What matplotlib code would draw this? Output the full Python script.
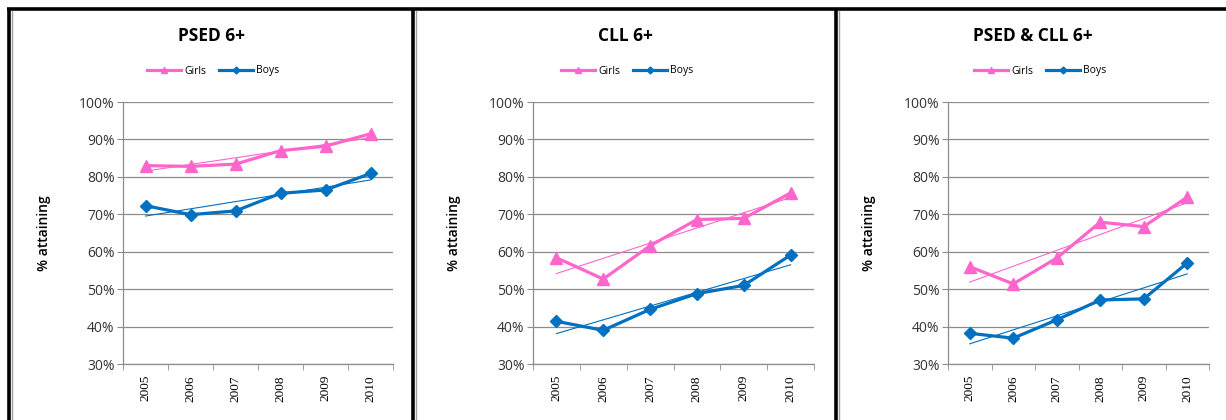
import numpy as np
import matplotlib
matplotlib.use('Agg')
import matplotlib.pyplot as plt
from matplotlib.lines import Line2D

# data (percent attaining)
years = ['2005', '2006', '2007', '2008', '2009', '2010']
titles = ['PSED 6+', 'CLL 6+', 'PSED & CLL 6+']

psed_girls = [83.0, 82.8, 83.4, 87.0, 88.2, 91.5]
psed_boys = [72.3, 69.9, 70.9, 75.6, 76.5, 80.9]
cll_girls = [58.4, 52.7, 61.6, 68.6, 68.9, 75.7]
cll_boys = [41.4, 39.0, 44.6, 48.8, 51.0, 59.1]
both_girls = [56.0, 51.4, 58.3, 67.9, 66.7, 74.6]
both_boys = [38.2, 36.9, 41.8, 47.1, 47.4, 57.0]

girls_series = [psed_girls, cll_girls, both_girls]
boys_series = [psed_boys, cll_boys, both_boys]

pink = '#FF66CC'
blue = '#0070C0'
grid_grey = '#8C8C8C'
text_grey = '#333333'

W, H = 1226, 420
fig = plt.figure(figsize=(W / 100, H / 100), dpi=100)

# plot area boxes in pixels: left, right, top(100%), bottom(30%)
boxes = [(123, 393, 102, 364), (533, 814, 102, 364), (948, 1209, 102, 364)]
title_x = [211, 625, 1033]
legend_x = [213, 627, 1040]

for i in range(3):
    l, r, t, b = boxes[i]
    ax = fig.add_axes([l / W, 1 - b / H, (r - l) / W, (b - t) / H])
    x = np.arange(1, len(years) + 1)
    girls = np.array(girls_series[i])
    boys = np.array(boys_series[i])

    # trendlines (linear fit like excel)
    for vals, col in [(girls, pink), (boys, blue)]:
        k, c = np.polyfit(x, vals, 1)
        ax.plot(x, k * x + c, color=col, lw=0.8, zorder=3)

    ax.plot(x, girls, color=pink, lw=2.3, marker='^', ms=8.5, zorder=4)
    ax.plot(x, boys, color=blue, lw=2.3, marker='D', ms=6.5, zorder=5)

    ax.set_xlim(0.5, len(years) + 0.5)
    ax.set_ylim(30, 100)
    ax.set_yticks(range(30, 101, 10))
    ax.set_yticklabels(['%d%%' % v for v in range(30, 101, 10)],
                       fontsize=10, color=text_grey, family='Open Sans')
    ax.set_xticks(x)
    ax.set_xticklabels(years, rotation=90, fontsize=9.5, family='Liberation Serif')
    ax.set_xticks(np.arange(0.5, len(years) + 1), minor=True)
    ax.tick_params(axis='x', which='major', length=0, pad=8)
    ax.tick_params(axis='x', which='minor', length=4, color=grid_grey)
    ax.tick_params(axis='y', length=4, color=grid_grey, pad=2)
    ax.grid(axis='y', color=grid_grey, lw=0.9)
    ax.set_axisbelow(True)
    for s in ['top', 'right']:
        ax.spines[s].set_visible(False)
    for s in ['left', 'bottom']:
        ax.spines[s].set_color(grid_grey)
        ax.spines[s].set_linewidth(0.9)
    ax.set_ylabel('% attaining', fontsize=10, fontweight='semibold',
                  family='Open Sans', labelpad=20)

    fig.text(title_x[i] / W, 1 - 36 / H, titles[i], ha='center', va='center',
             fontsize=12.5, fontweight='bold', family='Open Sans')

    handles = [Line2D([], [], color=pink, lw=2.3, marker='^', ms=5),
               Line2D([], [], color=blue, lw=2.3, marker='D', ms=3.5)]
    fig.legend(handles, ['Girls', 'Boys'], loc='center',
               bbox_to_anchor=(legend_x[i] / W, 1 - 71 / H), ncol=2,
               frameon=False, handlelength=3.3, handletextpad=0.3,
               columnspacing=1.2, prop={'family': 'Open Sans', 'size': 7.5})

# panel borders
border = dict(color='black', lw=2.6, solid_capstyle='butt')
fig.add_artist(Line2D([7 / W, 1], [1 - 9 / H, 1 - 9 / H], **border))
for xb in [9, 413, 836]:
    fig.add_artist(Line2D([xb / W, xb / W], [0, 1 - 9 / H], **border))
for xb in [12, 416, 839]:
    fig.add_artist(Line2D([xb / W, xb / W], [0, 1 - 11 / H], color='#A0A0A0', lw=1))

fig.savefig('out.png', dpi=100)
